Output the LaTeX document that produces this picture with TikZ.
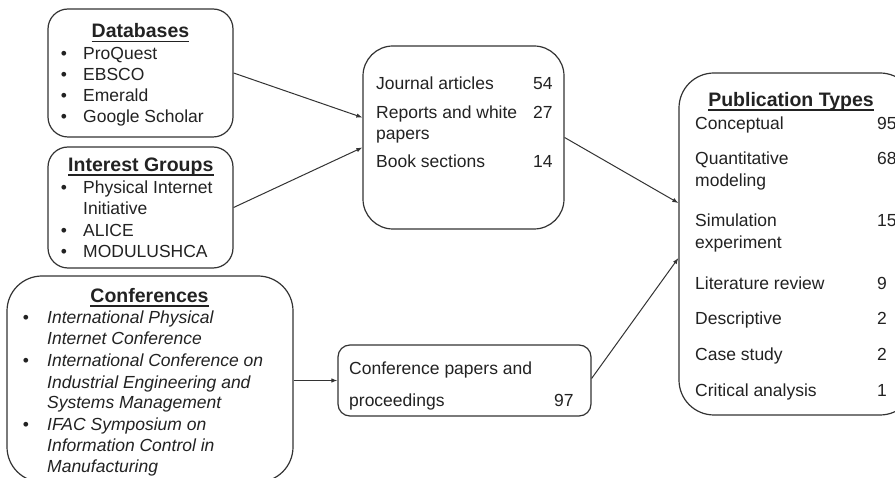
\documentclass[tikz,border=0pt]{standalone}
\usepackage{fontspec}
\setmainfont{Liberation Sans}
\usetikzlibrary{arrows.meta}
\definecolor{ink}{HTML}{222222}
\definecolor{edge}{HTML}{333333}
\begin{document}
\begin{tikzpicture}[x=1pt,y=-1pt,
  box/.style={draw=edge,line width=1.2pt,rounded corners=#1,inner sep=0pt},
  box/.default=20pt,
  txt/.style={inner sep=0pt,anchor=base west,text=ink,font=\fontsize{17.5}{21}\selectfont},
  itx/.style={inner sep=0pt,anchor=base west,text=ink,font=\fontsize{17.5}{21}\selectfont\itshape},
  ttl/.style={inner sep=0pt,anchor=base,text=ink,font=\fontsize{19.5}{23}\selectfont\bfseries},
  bul/.style={inner sep=0pt,anchor=base,text=ink,font=\fontsize{17.5}{21}\selectfont},
  conn/.style={draw=edge,line width=1pt,-{Latex[length=6pt,width=4.5pt]}},
  uline/.style={draw=ink,line width=1.8pt}]
\useasboundingbox (0,0) rectangle (895,478);
\clip (0,0) rectangle (895,478);
\fill[white] (0,0) rectangle (895,478);

% boxes
\node[box=20pt, minimum width=185pt, minimum height=128pt] (db) at (140.5,73) {};
\node[box=20pt, minimum width=185pt, minimum height=121pt] (ig) at (140.5,207.5) {};
\node[box=35pt, minimum width=286pt, minimum height=206pt] (conf) at (150,379) {};
\node[box=30pt, minimum width=201pt, minimum height=183pt] (mid) at (463.5,137.5) {};
\node[box=12pt, minimum width=253pt, minimum height=71pt] (confp) at (464.5,380.5) {};
\node[box=35pt, minimum width=236pt, minimum height=342pt] (pub) at (797,244) {};

% Databases
\node[ttl] (dbt) at (140.5,38) {Databases};
\draw[uline] ([yshift=-3.5pt]dbt.base west) -- ([yshift=-3.5pt]dbt.base east);
\node[bul] (dbb1) at (64,60) {•};
\node[txt] (db1) at (83,60) {ProQuest};
\node[bul] (dbb2) at (64,80.7) {•};
\node[txt] (db2) at (83,80.7) {EBSCO};
\node[bul] (dbb3) at (64,101.4) {•};
\node[txt] (db3) at (83,101.4) {Emerald};
\node[bul] (dbb4) at (64,122.1) {•};
\node[txt] (db4) at (83,122.1) {Google Scholar};

% Interest Groups
\node[ttl] (igt) at (140.8,171.7) {Interest Groups};
\draw[uline] ([yshift=-3.5pt]igt.base west) -- ([yshift=-3.5pt]igt.base east);
\node[bul] (igb1) at (64,194) {•};
\node[txt] (ig1) at (83,194) {Physical Internet};
\node[txt] (ig2) at (83,215) {Initiative};
\node[bul] (igb3) at (64,236.5) {•};
\node[txt] (ig3) at (83,236.5) {ALICE};
\node[bul] (igb4) at (64,257.3) {•};
\node[txt] (ig4) at (83,257.3) {MODULUSHCA};

% Conferences
\node[ttl] (cft) at (149.5,302.3) {Conferences};
\draw[uline] ([yshift=-3.5pt]cft.base west) -- ([yshift=-3.5pt]cft.base east);
\node[bul] (cfb1) at (26,323.3) {•};
\node[itx] (cf1) at (47,323.3) {International Physical};
\node[itx] (cf2) at (47,345) {Internet Conference};
\node[bul] (cfb3) at (26,366.7) {•};
\node[itx] (cf3) at (47,366.7) {International Conference on};
\node[itx] (cf4) at (47,388.3) {Industrial Engineering and};
\node[itx] (cf5) at (47,409) {Systems Management};
\node[bul] (cfb6) at (26,430.7) {•};
\node[itx] (cf6) at (47,430.7) {IFAC Symposium on};
\node[itx] (cf7) at (47,451.7) {Information Control in};
\node[itx] (cf8) at (47,472.3) {Manufacturing};

% Middle box
\node[txt] (m1) at (376,90) {Journal articles};
\node[txt] (m1n) at (533,90) {54};
\node[txt] (m2) at (376,118.3) {Reports and white};
\node[txt] (m2n) at (533,118.3) {27};
\node[txt] (m3) at (376,140) {papers};
\node[txt] (m4) at (376,167.7) {Book sections};
\node[txt] (m4n) at (533,167.7) {14};

% Conference papers box
\node[txt] (c1) at (349,375) {Conference papers and};
\node[txt] (c2) at (349,406.7) {proceedings};
\node[txt] (c2n) at (554,406.7) {97};

% Publication types
\node[ttl] (pubt) at (791,106.7) {Publication Types};
\draw[uline] ([yshift=-3.5pt]pubt.base west) -- ([yshift=-3.5pt]pubt.base east);
\node[txt] (p1) at (695,129.3) {Conceptual};
\node[txt] (p1n) at (877,129.3) {95};
\node[txt] (p2) at (695,165) {Quantitative};
\node[txt] (p2n) at (877,165) {68};
\node[txt] (p3) at (695,186.7) {modeling};
\node[txt] (p4) at (695,226.7) {Simulation};
\node[txt] (p4n) at (877,226.7) {15};
\node[txt] (p5) at (695,248.3) {experiment};
\node[txt] (p6) at (695,289.3) {Literature review};
\node[txt] (p6n) at (877,289.3) {9};
\node[txt] (p7) at (695,325) {Descriptive};
\node[txt] (p7n) at (877,325) {2};
\node[txt] (p8) at (695,360.7) {Case study};
\node[txt] (p8n) at (877,360.7) {2};
\node[txt] (p9) at (695,396.7) {Critical analysis};
\node[txt] (p9n) at (877,396.7) {1};

% connectors
\draw[conn] (db.east) -- ([yshift=20pt]mid.west);
\draw[conn] (ig.east) -- ([yshift=-10pt]mid.west);
\draw[conn] (mid.east) -- ([yshift=41pt]pub.west);
\draw[conn] ([yshift=2pt]confp.east) -- ([yshift=-14pt]pub.west);
\draw[conn] (conf.east |- confp.west) -- (confp.west);
\end{tikzpicture}
\end{document}
